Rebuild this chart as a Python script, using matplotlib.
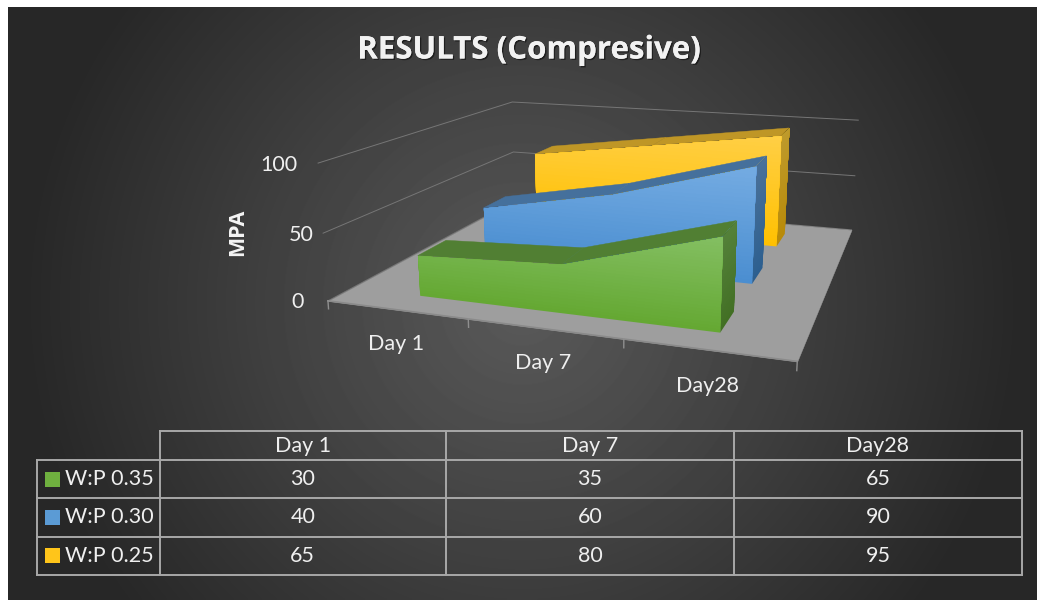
"""3D area chart with data table: compressive strength by water/powder ratio."""

import numpy as np
import matplotlib
matplotlib.use("Agg")
import matplotlib.pyplot as plt
import matplotlib.patheffects as pe
from matplotlib.colors import to_rgb
from mpl_toolkits.mplot3d.art3d import Poly3DCollection

DAYS = ["Day 1", "Day 7", "Day28"]
SERIES = ["W:P 0.35", "W:P 0.30", "W:P 0.25"]
WP035 = [30, 35, 65]
WP030 = [40, 60, 90]
WP025 = [65, 80, 95]
Z_TICKS = [0, 50, 100]

W, H = 1037, 600
FONT = "Lato"
TEXT = "#EFEFEF"
X_CENTRES = [0.5, 1.5, 2.5]
DEPTH = 0.396

# front light, front dark, top face, end light, end dark
COLOURS = [
    ("#84BF62", "#64A832", "#517F33", "#54813A", "#426F24"),
    ("#74ACE2", "#4A8DD0", "#45709C", "#4A7199", "#2D5F8F"),
    ("#FFCF45", "#FFC000", "#BF9626", "#BE9A2C", "#B88A08"),
]
KEY_COLOURS = ["#6FB03F", "#5B9BD5", "#FFC51A"]


def mix(c0, c1, t):
    return tuple((1 - t) * np.array(to_rgb(c0)) + t * np.array(to_rgb(c1)))


def add_polys(ax, polys, colours, zorder, lw=0.3):
    col = Poly3DCollection(polys, facecolors=colours, edgecolors=colours, linewidths=lw)
    col.set_zorder(zorder)
    ax.add_collection3d(col, autolim=False)
    col.set_clip_on(False)


def draw_area(ax, values, slot, colours, zorder, n_bands=30):
    """One 3D ribbon: the faces are painted in overlapping bands, bottom up."""
    light, dark, top_c, end_light, end_dark = colours
    y0 = slot + 0.5 - DEPTH / 2
    y1 = slot + 0.5 + DEPTH / 2
    zmax = max(values)
    edges = np.linspace(0, zmax, n_bands + 1)
    xs = np.linspace(X_CENTRES[0], X_CENTRES[-1], 201)
    ztop = np.interp(xs, X_CENTRES, values)

    tops = []
    for i in range(len(values) - 1):
        tops.append([
            (X_CENTRES[i], y0, values[i]), (X_CENTRES[i + 1], y0, values[i + 1]),
            (X_CENTRES[i + 1], y1, values[i + 1]), (X_CENTRES[i], y1, values[i]),
        ])
    add_polys(ax, tops, [top_c] * len(tops), zorder)

    # right end face
    for k in range(n_bands):
        poly = [(X_CENTRES[-1], y0, edges[k]), (X_CENTRES[-1], y1, edges[k]),
                (X_CENTRES[-1], y1, zmax), (X_CENTRES[-1], y0, zmax)]
        add_polys(ax, [poly], [mix(end_dark, end_light, (k + 0.5) / n_bands)],
                  zorder + 0.1 + k * 0.001, lw=0)

    # front face, colour follows height
    for k in range(n_bands):
        keep = ztop > edges[k]
        if keep.sum() < 2:
            continue
        pts = [(x, y0, z) for x, z in zip(xs[keep], ztop[keep])]
        pts += [(x, y0, edges[k]) for x in xs[keep][::-1]]
        add_polys(ax, [pts], [mix(dark, light, (k + 0.5) / n_bands)],
                  zorder + 0.2 + k * 0.001, lw=0)


fig = plt.figure(figsize=(W / 100, H / 100), dpi=100, facecolor="white")

# radial background, white margin left and top comes from the figure
bg = fig.add_axes([8 / W, 0, (W - 8) / W, (H - 7) / H], zorder=0)
yy, xx = np.mgrid[7:H, 8:W]
t = np.clip(np.hypot(xx - 522, yy - 303) / 500, 0, 1)
grey = (0x5A - t * (0x5A - 0x27)) / 255
bg.imshow(grey, cmap="gray", vmin=0, vmax=1, aspect="auto", interpolation="bilinear")
bg.axis("off")

# 3D part, view fitted against the reference
ax = fig.add_axes([(207.4 + 97.64) / W, (120 + 94.13) / H, 0.6, 0.6],
                  projection="3d", zorder=1, computed_zorder=False)
ax.set_xlim(0, 3)
ax.set_ylim(0, 3)
ax.set_zlim(0, 100)
ax.view_init(13.7921, -71.41546, -0.18368)
ax.set_proj_type("persp", focal_length=0.50628)
ax.set_box_aspect((1, 0.95199, 0.30037), zoom=1.5952)
ax.set_axis_off()
ax.patch.set_visible(False)

# wall gridlines
for z in Z_TICKS:
    line, = ax.plot([0, 0, 3], [0, 3, 3], [z, z, z], color="#767676", lw=0.7, zorder=1)
    line.set_clip_on(False)

# floor, front edge and ticks
add_polys(ax, [[(0, 0, 0), (3, 0, 0), (3, 3, 0), (0, 3, 0)]], ["#9E9E9E"], 2)
line, = ax.plot([0, 3], [0, 0], [0, 0], color="#8A8A8A", lw=1.2, zorder=3)
line.set_clip_on(False)
for x in range(4):
    line, = ax.plot([x, x], [0, 0], [0, -6], color="#8F8F8F", lw=1.0, zorder=3)
    line.set_clip_on(False)

draw_area(ax, WP025, 2, COLOURS[2], 4)
draw_area(ax, WP030, 1, COLOURS[1], 5)
draw_area(ax, WP035, 0, COLOURS[0], 6)

# text and table in pixel coordinates
top = fig.add_axes([0, 0, 1, 1], zorder=2)
top.set_xlim(0, W)
top.set_ylim(H, 0)
top.axis("off")

title = top.text(529, 50.5, "RESULTS (Compresive)", ha="center", va="center",
                 fontsize=22.5, fontweight="bold", family="Open Sans", color="#F2F2F2")
title.set_path_effects([pe.withSimplePatchShadow(offset=(1, -1), alpha=0.5, shadow_rgbFace="black"),
                        pe.Normal()])

for label, (x, y) in zip(Z_TICKS, [(298, 302), (301, 235), (279, 165)]):
    top.text(x, y, str(label), ha="center", va="center", fontsize=15.5, family=FONT, color=TEXT)
top.text(238, 232, "MPA", rotation=90, ha="center", va="center", fontsize=15.5,
         fontweight="bold", family="Open Sans", color="#F5F5F5")
for label, (x, y) in zip(DAYS, [(396, 344), (543, 363), (707, 386)]):
    top.text(x, y, label, ha="center", va="center", fontsize=15.5, family=FONT, color=TEXT)

TABLE_X = [37, 159.5, 446, 734, 1022]
TABLE_Y = [431, 460, 498, 536.5, 575]
GRID = "#A8A8A8"
top.plot([TABLE_X[1], TABLE_X[-1]], [TABLE_Y[0]] * 2, color=GRID, lw=1.4, solid_capstyle="projecting")
for y in TABLE_Y[1:]:
    top.plot([TABLE_X[0], TABLE_X[-1]], [y, y], color=GRID, lw=1.4, solid_capstyle="projecting")
top.plot([TABLE_X[0]] * 2, [TABLE_Y[1], TABLE_Y[-1]], color=GRID, lw=1.4, solid_capstyle="projecting")
for x in TABLE_X[1:]:
    top.plot([x, x], [TABLE_Y[0], TABLE_Y[-1]], color=GRID, lw=1.4, solid_capstyle="projecting")

for i, label in enumerate(DAYS):
    xc = (TABLE_X[i + 1] + TABLE_X[i + 2]) / 2
    top.text(xc, 446, label, ha="center", va="center", fontsize=15.5, family=FONT, color=TEXT)

for r, (name, values) in enumerate(zip(SERIES, [WP035, WP030, WP025])):
    yc = (TABLE_Y[r + 1] + TABLE_Y[r + 2]) / 2
    top.add_patch(plt.Rectangle((45, yc - 7.5), 15, 15, facecolor=KEY_COLOURS[r], edgecolor="none"))
    top.text(65, yc, name, ha="left", va="center", fontsize=15.5, family=FONT, color=TEXT)
    for i, v in enumerate(values):
        xc = (TABLE_X[i + 1] + TABLE_X[i + 2]) / 2
        top.text(xc, yc, str(v), ha="center", va="center", fontsize=15.5, family=FONT, color=TEXT)

fig.savefig("out.png", dpi=100)
